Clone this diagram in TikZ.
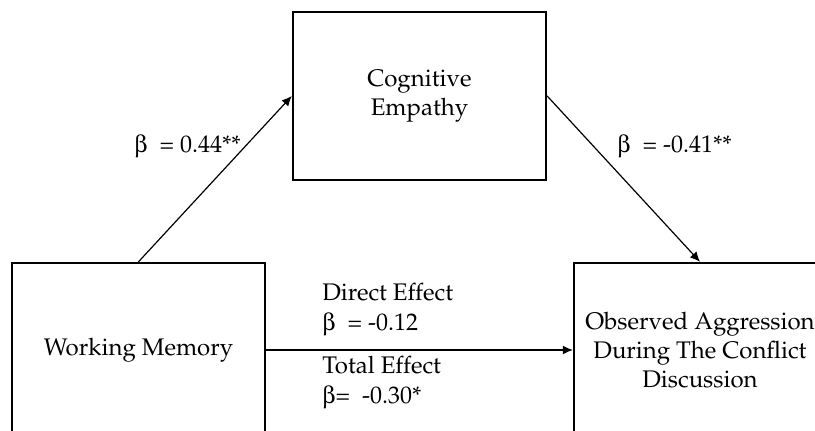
\documentclass[tikz,border=0pt]{standalone}
\usepackage[T1]{fontenc}
\usepackage{mathpazo}
\usepackage[Symbol]{upgreek}
\usepackage{tikz}
\usetikzlibrary{arrows.meta}

\begin{document}
\begin{tikzpicture}[x=0.5pt,y=-0.5pt]
		\tikzset{> = {Latex[length=5pt,width=4.5pt]}}
		\tikzset{box/.style = {draw,line width = 1.2pt,align = center,font = \fontsize{12}{14.5}\selectfont}}
		\tikzset{coef/.style = {anchor = west,inner sep = 0pt,align = left,font = \fontsize{12}{15}\selectfont}}
		\useasboundingbox (0,0) rectangle (815,430);
		\clip (0,0) rectangle (815,430);
		\node[box,minimum width = 126.5pt,minimum height = 84pt] (CE) at (419.5,96){Cognitive\\Empathy};
		\node[box,minimum width = 126.5pt,minimum height = 87pt] (WM) at (138.5,350){Working Memory};
		\node[box,minimum width = 126pt,minimum height = 87pt] (OA) at (700,350){Observed Aggression\\During The Conflict\\Discussion};
		\draw[->,line width = 0.6pt] (WM.north) -- (CE.west);
		\draw[->,line width = 0.6pt] (CE.east) -- (OA.north);
		\draw[->,line width = 0.6pt] (WM.east) -- (OA.west);
		\node[coef] (A) at (134,147){\(\upbeta\)\enspace= 0.44**};
		\node[coef] (B) at (617,147){\(\upbeta\)\enspace= -0.41**};
		\node[coef] (D) at (322,310){Direct Effect\\\(\upbeta\)\enspace= -0.12};
		\node[coef] (T) at (322,383){Total Effect\\\(\upbeta\)= \ -0.30*};
	\end{tikzpicture}
\end{document}
